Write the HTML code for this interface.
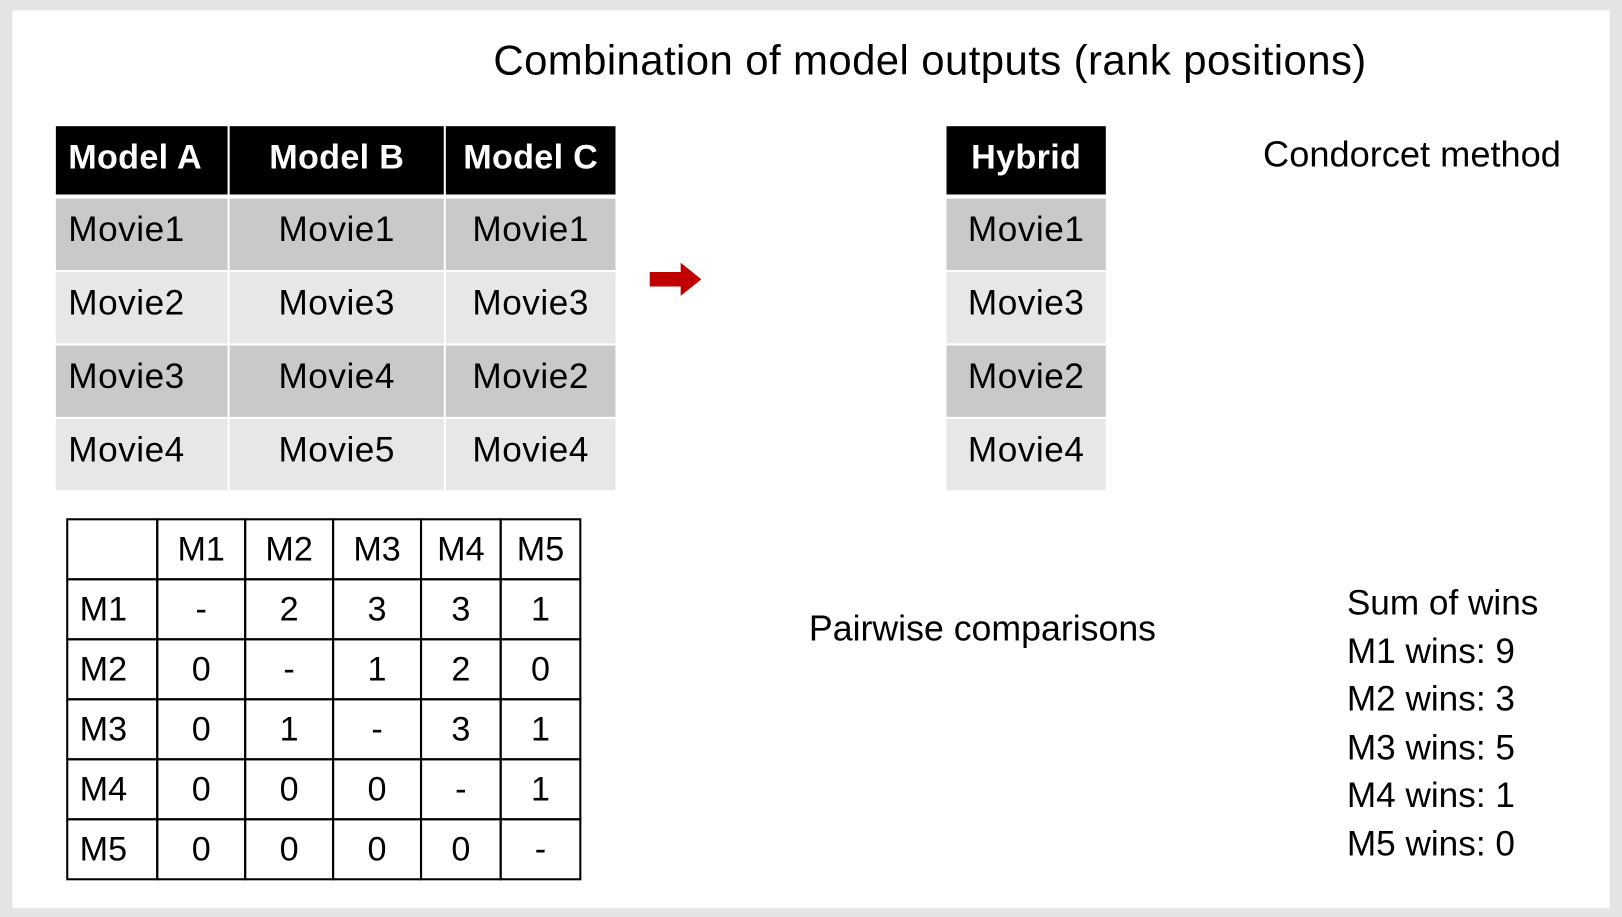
<!DOCTYPE html>
<html><head><meta charset="utf-8"><style>
html,body{margin:0;padding:0;width:1622px;height:917px;overflow:hidden;background:#e4e4e4;}
#root{position:absolute;left:0;top:0;width:1568px;height:886px;transform:scale(1.03444);transform-origin:0 0;font-family:"Liberation Sans","DejaVu Sans",sans-serif;}
.slide{position:absolute;left:12px;top:10px;width:1544px;height:868px;background:#fff;}
.c{position:absolute;box-sizing:border-box;display:flex;align-items:center;font-size:34px;color:#000;white-space:nowrap;padding-bottom:8px;letter-spacing:0.5px;}
.h{background:#000;color:#fff;font-weight:bold;justify-content:center;font-size:33px;padding-bottom:6px;letter-spacing:0.3px;}
.g1{background:#c9c9c9}.g2{background:#e7e7e7}
.t{position:absolute;font-size:34px;white-space:nowrap;color:#000;}
.m{position:absolute;box-sizing:border-box;border:2px solid #000;display:flex;align-items:center;justify-content:center;font-size:33px;}
</style></head><body>
<div id="root">
<div class="slide"></div>
<div class="t" style="left:477px;top:35px;font-size:40.5px;letter-spacing:0.4px;">Combination of model outputs (rank positions)</div>
<div class="t" style="left:1221px;top:130px;font-size:35px;">Condorcet method</div>
<div class="t" style="left:782px;top:589px;font-size:34.5px;">Pairwise comparisons</div>
<div class="t" style="left:1302px;top:560px;line-height:46.5px;">Sum of wins<br>M1 wins: 9<br>M2 wins: 3<br>M3 wins: 5<br>M4 wins: 1<br>M5 wins: 0</div>
<svg style="position:absolute;left:628px;top:254px" width="52" height="34"><polygon points="0,9 30,9 30,0 50,16 30,32 30,23 0,23" fill="#c00000"/></svg>
<div id="tables"></div>
</div>
<script>
const root=document.getElementById('tables');
function cell(cls,x,y,w,h,txt,name,align){const d=document.createElement('div');d.className='c '+cls;d.style.cssText=`left:${x}px;top:${y}px;width:${w}px;height:${h}px;`+(align||'');d.textContent=txt;


root.appendChild(d);}
const headers=['Model A','Model B','Model C'];
const cols=[[54,166,'justify-content:flex-start;padding-left:12px'],[222,207,'justify-content:center'],[431,164,'justify-content:center']];
const ranks=[['Movie1','Movie1','Movie1'],['Movie2','Movie3','Movie3'],['Movie3','Movie4','Movie2'],['Movie4','Movie5','Movie4']];
const hybrid=['Movie1','Movie3','Movie2','Movie4'];
const rowY=[192,263,334,405];
headers.forEach((h,i)=>cell('h',cols[i][0],122,cols[i][1],66,h,'header-'+h.toLowerCase().replace(' ','-'),i==0?'justify-content:flex-start;padding-left:12px':''));
ranks.forEach((r,ri)=>r.forEach((m,ci)=>cell(ri%2?'g2':'g1',cols[ci][0],rowY[ri],cols[ci][1],69,m,'rank-cell',cols[ci][2])));
cell('h',915,122,154,66,'Hybrid','header-hybrid');
hybrid.forEach((m,ri)=>cell(ri%2?'g2':'g1',915,rowY[ri],154,69,m,'hybrid-cell','justify-content:center'));
const mx=[65,152,237,322,407,484,561],my=[502,560,618,676,734,792,850];
const labels=['','M1','M2','M3','M4','M5'];
const matrix=[['-','2','3','3','1'],['0','-','1','2','0'],['0','1','-','3','1'],['0','0','0','-','1'],['0','0','0','0','-']];
for(let r=0;r<6;r++)for(let c=0;c<6;c++){const d=document.createElement('div');d.className='m';
d.style.cssText=`left:${mx[c]-1}px;top:${my[r]-1}px;width:${mx[c+1]-mx[c]+2}px;height:${my[r+1]-my[r]+2}px;`;
let t=r==0?labels[c]:c==0?labels[r]:matrix[r-1][c-1];
if(c==0&&r>0){d.style.justifyContent='flex-start';d.style.paddingLeft='11px';}
d.textContent=t;


root.appendChild(d);}
</script>
</body></html>
